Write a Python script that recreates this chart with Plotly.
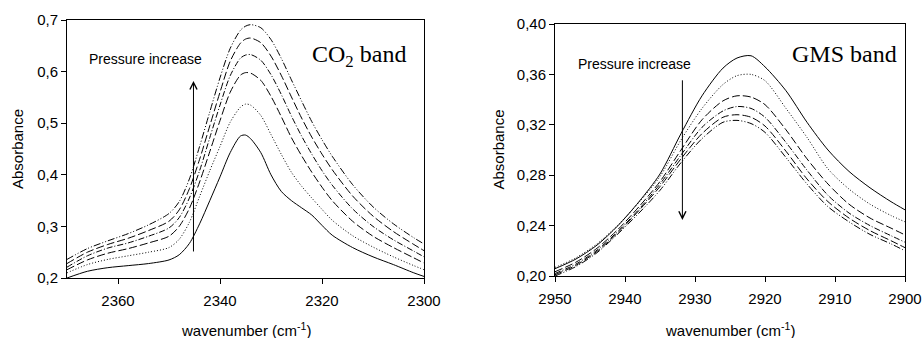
import plotly.graph_objects as go

# ---------------- CO2 band (left) ----------------
co2_wn = [2370, 2366, 2362, 2358, 2354, 2350, 2348, 2346, 2344, 2342, 2340, 2338,
          2336, 2335, 2334, 2332, 2330, 2328, 2326, 2324, 2322, 2320, 2318, 2314,
          2310, 2306, 2302, 2300]
co2_p1 = [.200, .213, .220, .224, .228, .235, .245, .267, .305, .350, .396, .443,
          .475, .477, .470, .443, .400, .368, .350, .336, .322, .302, .283, .259,
          .241, .226, .210, .203]
co2_p2 = [.210, .226, .236, .243, .250, .259, .275, .308, .358, .408, .455, .502,
          .531, .537, .535, .515, .478, .440, .405, .378, .355, .333, .312, .282,
          .260, .241, .224, .216]
co2_p3 = [.216, .235, .248, .257, .268, .281, .300, .335, .386, .445, .505, .560,
          .593, .598, .597, .583, .552, .513, .472, .437, .405, .376, .350, .310,
          .281, .259, .239, .229]
co2_p4 = [.221, .243, .258, .268, .281, .297, .317, .355, .408, .472, .535, .592,
          .626, .632, .633, .622, .594, .556, .514, .475, .440, .408, .380, .334,
          .300, .274, .252, .241]
co2_p5 = [.228, .250, .265, .277, .292, .310, .332, .373, .430, .495, .560, .620,
          .655, .663, .665, .656, .630, .593, .551, .510, .473, .440, .410, .359,
          .320, .290, .265, .253]
co2_p6 = [.236, .257, .272, .286, .303, .325, .348, .392, .455, .522, .588, .645,
          .680, .688, .691, .685, .662, .626, .584, .543, .503, .468, .436, .381,
          .338, .305, .278, .266]

# ---------------- GMS band (right) ----------------
gms_wn = [2950, 2947, 2944, 2941, 2938, 2935, 2932, 2929, 2926, 2924, 2922, 2920,
          2917, 2914, 2911, 2908, 2905, 2902, 2900]
gms_p1 = [.2058, .2135, .2245, .2400, .2590, .2810, .3130, .3430, .3650, .3730, .3748, .3660,
          .3470, .3220, .3000, .2830, .2700, .2590, .2525]
gms_p2 = [.2068, .2145, .2255, .2405, .2585, .2790, .3080, .3330, .3520, .3590, .3600, .3550,
          .3330, .3100, .2850, .2690, .2570, .2480, .2430]
gms_p3 = [.2034, .2110, .2220, .2370, .2550, .2750, .3000, .3240, .3390, .3430, .3420, .3360,
          .3160, .2930, .2730, .2570, .2460, .2380, .2326]
gms_p4 = [.2020, .2095, .2205, .2355, .2530, .2730, .2960, .3180, .3310, .3345, .3330, .3260,
          .3060, .2840, .2640, .2500, .2400, .2320, .2268]
gms_p5 = [.2010, .2085, .2195, .2345, .2520, .2710, .2930, .3130, .3260, .3280, .3260, .3190,
          .2990, .2770, .2590, .2460, .2360, .2280, .2225]
gms_p6 = [.2000, .2075, .2185, .2335, .2500, .2680, .2900, .3090, .3220, .3235, .3210, .3140,
          .2940, .2730, .2550, .2430, .2330, .2255, .2200]

co2_xticks = [2360, 2340, 2320, 2300]
co2_yticks = [0.2, 0.3, 0.4, 0.5, 0.6, 0.7]
co2_ytext = ["0,2", "0,3", "0,4", "0,5", "0,6", "0,7"]
gms_xticks = [2950, 2940, 2930, 2920, 2910, 2900]
gms_yticks = [0.20, 0.24, 0.28, 0.32, 0.36, 0.40]
gms_ytext = ["0,20", "0,24", "0,28", "0,32", "0,36", "0,40"]

dash_styles = ["solid", "1px,2px", "8px,3px", "6px,2px,1px,2px", "8px,3px", "7px,2px,1px,2px,1px,2px"]

fig = go.Figure()
for ys, d in zip([co2_p1, co2_p2, co2_p3, co2_p4, co2_p5, co2_p6], dash_styles):
    fig.add_trace(go.Scatter(x=co2_wn, y=ys, mode="lines", xaxis="x", yaxis="y",
                             line=dict(color="black", width=1, dash=d, shape="spline", smoothing=0.8),
                             showlegend=False, hoverinfo="skip"))
for ys, d in zip([gms_p1, gms_p2, gms_p3, gms_p4, gms_p5, gms_p6], dash_styles):
    fig.add_trace(go.Scatter(x=gms_wn, y=ys, mode="lines", xaxis="x2", yaxis="y2",
                             line=dict(color="black", width=1, dash=d, shape="spline", smoothing=0.8),
                             showlegend=False, hoverinfo="skip"))

SANS = "Liberation Sans, Arial, sans-serif"
tickfont = dict(family=SANS, size=15, color="black")
axcommon = dict(showgrid=False, zeroline=False, showline=True, linecolor="black", linewidth=1,
                mirror=True, ticks="outside", ticklen=5, tickcolor="black", tickwidth=1,
                tickfont=tickfont, automargin=False)

fig.update_layout(
    width=924, height=338,
    margin=dict(l=0, r=0, t=0, b=0),
    paper_bgcolor="white", plot_bgcolor="white",
    font=dict(family=SANS, color="black"),
    xaxis=dict(domain=[67 / 924, 424 / 924], range=[2370, 2300], tickvals=co2_xticks,
               anchor="y", ticklabelstandoff=4, **axcommon),
    yaxis=dict(domain=[1 - 278 / 338, 1 - 20 / 338], range=[0.2, 0.7], tickvals=co2_yticks,
               ticktext=co2_ytext, anchor="x", **axcommon),
    xaxis2=dict(domain=[555 / 924, 905 / 924], range=[2950, 2900], tickvals=gms_xticks,
                anchor="y2", ticklabelstandoff=4, **axcommon),
    yaxis2=dict(domain=[1 - 276 / 338, 1 - 24 / 338], range=[0.2, 0.4], tickvals=gms_yticks,
                ticktext=gms_ytext, anchor="x2", **axcommon),
)

def paper(px, py):
    return px / 924, 1 - py / 338

title_font = dict(family=SANS, size=15, color="black")
# axis titles
for cx, cy in [(245.5, 329), (730, 329)]:
    x, y = paper(cx, cy)
    fig.add_annotation(x=x, y=y, xref="paper", yref="paper", text="wavenumber (cm<sup>-1</sup>)",
                       showarrow=False, font=title_font, xanchor="center", yanchor="middle")
for cx, cy in [(17.5, 149.5), (497.5, 150)]:
    x, y = paper(cx, cy)
    fig.add_annotation(x=x, y=y, xref="paper", yref="paper", text="Absorbance", textangle=-90,
                       showarrow=False, font=title_font, xanchor="center", yanchor="middle")

ann_font = dict(family=SANS, size=14, color="black")
band_font = dict(family="Liberation Serif, Times New Roman, serif", size=24, color="black")
x, y = paper(145.5, 59)
fig.add_annotation(x=x, y=y, xref="paper", yref="paper", text="Pressure increase",
                   showarrow=False, font=ann_font, xanchor="center", yanchor="middle")
x, y = paper(634, 64)
fig.add_annotation(x=x, y=y, xref="paper", yref="paper", text="Pressure increase",
                   showarrow=False, font=ann_font, xanchor="center", yanchor="middle")
x, y = paper(359, 56)
fig.add_annotation(x=x, y=y, xref="paper", yref="paper", text="CO<sub>2</sub> band",
                   showarrow=False, font=band_font, xanchor="center", yanchor="middle")
x, y = paper(844.5, 54)
fig.add_annotation(x=x, y=y, xref="paper", yref="paper", text="GMS band",
                   showarrow=False, font=band_font, xanchor="center", yanchor="middle")

# pressure arrows
fig.add_annotation(x=2345.2, y=0.582, ax=2345.2, ay=0.2485, xref="x", yref="y", axref="x", ayref="y",
                   text="", showarrow=True, arrowhead=5, arrowsize=1.4, arrowwidth=1, arrowcolor="black")
fig.add_annotation(x=2931.8, y=0.2445, ax=2931.8, ay=0.3565, xref="x2", yref="y2", axref="x2", ayref="y2",
                   text="", showarrow=True, arrowhead=5, arrowsize=1.4, arrowwidth=1, arrowcolor="black")

fig.write_html("out.html", config={"displayModeBar": False},
               post_script="document.body.style.margin='0';document.body.style.overflow='hidden';")
